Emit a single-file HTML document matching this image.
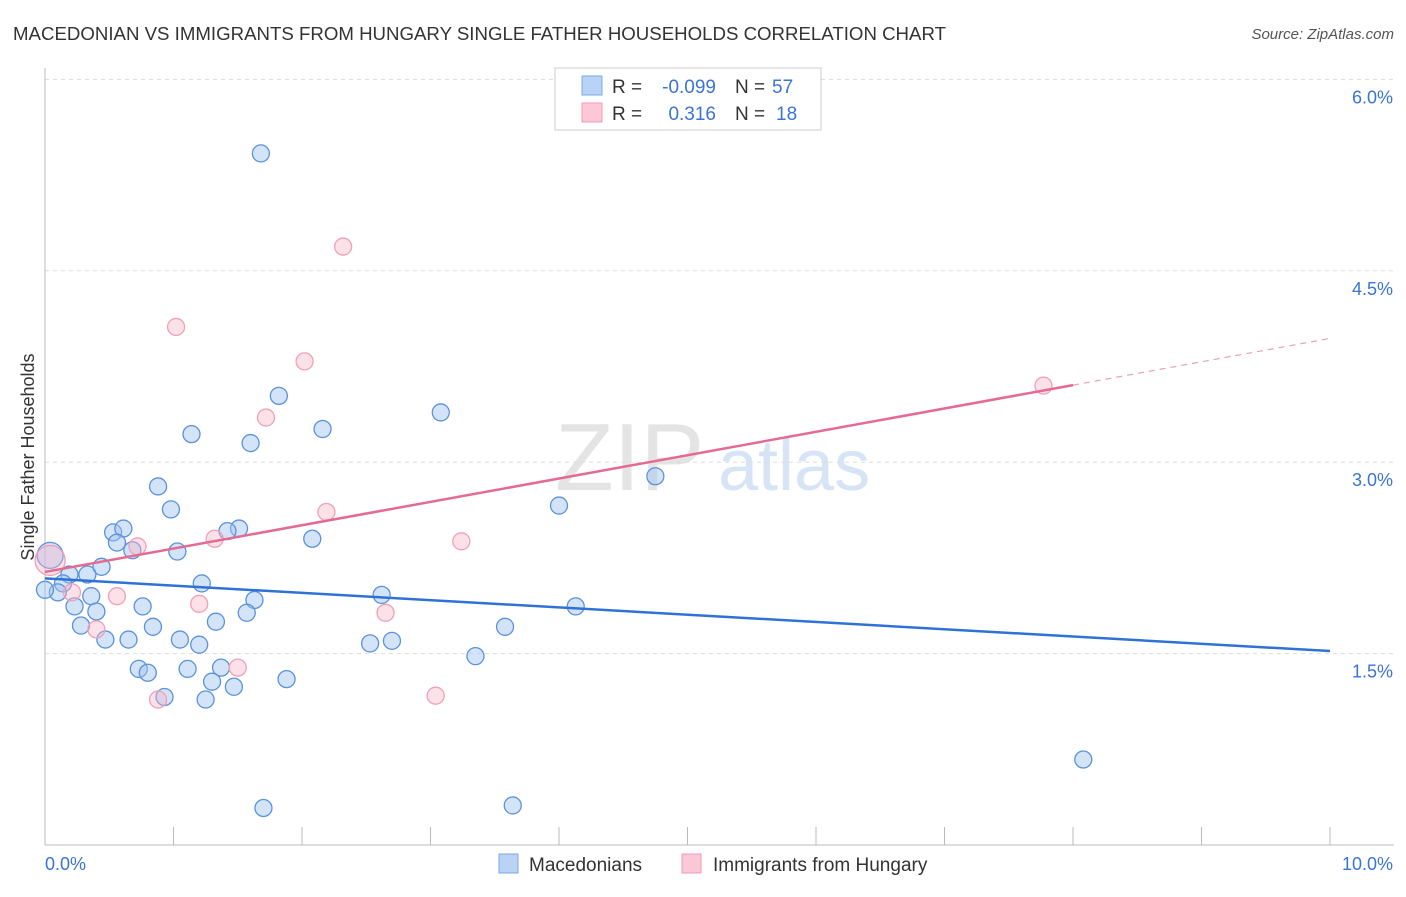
<!DOCTYPE html>
<html><head><meta charset="utf-8"><style>
body{margin:0;background:#fff;font-family:"Liberation Sans",sans-serif;}
svg text{font-family:"Liberation Sans",sans-serif;}
</style></head><body>
<svg id="chart" width="1406" height="892" xmlns="http://www.w3.org/2000/svg">
<text x="13" y="40" font-size="18" fill="#333" textLength="933" lengthAdjust="spacingAndGlyphs">MACEDONIAN VS IMMIGRANTS FROM HUNGARY SINGLE FATHER HOUSEHOLDS CORRELATION CHART</text>
<text x="1394" y="39" font-size="15" fill="#555" text-anchor="end" font-style="italic">Source: ZipAtlas.com</text>
<text x="555" y="490" font-size="96" fill="#e4e4e4" font-family="Liberation Serif">ZIP</text>
<text x="718" y="490" font-size="72" fill="#d6e4f5">atlas</text>
<text transform="translate(34,457) rotate(-90)" font-size="18" fill="#333" text-anchor="middle">Single Father Households</text>
<g id="grid"></g><g id="axes"></g><g id="marks"></g>
<g>
<rect x="555" y="68" width="266" height="62" fill="#fff" stroke="#ccc"/>
<rect x="582" y="76" width="20" height="19" fill="#b8d3f5" stroke="#7aa8e6"/>
<rect x="582" y="103" width="20" height="19" fill="#fcc7d6" stroke="#f09ab5"/>
<text x="612" y="93" font-size="19" fill="#333">R =</text>
<text x="716" y="93" font-size="19" fill="#3a74d6" text-anchor="end">-0.099</text>
<text x="735" y="93" font-size="19" fill="#333">N =</text>
<text x="772" y="93" font-size="19" fill="#3a74d6">57</text>
<text x="612" y="120" font-size="19" fill="#333">R =</text>
<text x="716" y="120" font-size="19" fill="#3a74d6" text-anchor="end">0.316</text>
<text x="735" y="120" font-size="19" fill="#333">N =</text>
<text x="776" y="120" font-size="19" fill="#3a74d6">18</text>
</g>
<g>
<rect x="499" y="854" width="19" height="19" fill="#b8d3f5" stroke="#7aa8e6"/>
<text x="529" y="871" font-size="19" fill="#333">Macedonians</text>
<rect x="682" y="854" width="19" height="19" fill="#fcc7d6" stroke="#f09ab5"/>
<text x="713" y="871" font-size="19" fill="#333">Immigrants from Hungary</text>
</g>
</svg>
<script>
const blueX=[1.68,1.82,1.14,1.60,2.16,3.08,4.75,4.00,0.88,0.98,0.53,0.61,0.56,1.51,1.42,2.08,0.68,1.03,0.44,0.19,0.33,0.14,0.10,1.22,0.36,0.23,0.40,0.76,1.63,2.62,4.13,1.57,1.33,0.28,0.84,3.58,0.47,0.65,1.05,1.20,2.53,2.70,3.35,0.73,0.80,1.11,1.37,1.30,1.88,1.47,0.93,1.25,1.70,3.64,8.08,0.00];
const blueY=[5.42,3.52,3.22,3.15,3.26,3.39,2.89,2.66,2.81,2.63,2.45,2.48,2.37,2.48,2.46,2.40,2.31,2.30,2.18,2.12,2.12,2.05,1.98,2.05,1.95,1.87,1.83,1.87,1.92,1.96,1.87,1.82,1.75,1.72,1.71,1.71,1.61,1.61,1.61,1.57,1.58,1.60,1.48,1.38,1.35,1.38,1.39,1.28,1.30,1.24,1.16,1.14,0.29,0.31,0.67,2.00];
const pinkX=[2.32,1.02,2.02,1.72,2.19,3.24,1.32,0.72,0.56,0.21,0.40,1.20,2.65,1.50,0.88,3.04,7.77];
const pinkY=[4.69,4.06,3.79,3.35,2.61,2.38,2.40,2.34,1.95,1.98,1.69,1.89,1.82,1.39,1.14,1.17,3.60];
const bigPoints=[{x:0.04,y:2.27,s:'blue'},{x:0.04,y:2.23,s:'pink'}];
const blueLine=[2.09,1.52];
const pinkLine=[2.14,3.97];
const pinkSolidEnd=8.0;
const yTicks=[1.5,3.0,4.5,6.0];
const yTickLabels=["1.5%","3.0%","4.5%","6.0%"];
const xTicks=[0,1,2,3,4,5,6,7,8,9,10];
const NS="http://www.w3.org/2000/svg";
const X=v=>45+v*128.5, Y=v=>845-v*127.6;
function mk(t,a,p){const e=document.createElementNS(NS,t);for(const k in a)e.setAttribute(k,a[k]);p.appendChild(e);return e;}
const grid=document.getElementById('grid'),axes=document.getElementById('axes'),marks=document.getElementById('marks');
yTicks.forEach((t,i)=>{
 const l=mk('line',{x1:45,x2:1394,y1:Y(t),y2:Y(t),stroke:'#ddd','stroke-dasharray':'4,4'},grid);
 
 
 const tx=mk('text',{x:1393,y:Y(t)+24,'font-size':18,fill:'#3a74d6','text-anchor':'end'},axes);
 tx.textContent=yTickLabels[i];
 
 
});
const ax=mk('line',{x1:45,x2:45,y1:68,y2:845,stroke:'#bbb'},axes);


const bx=mk('line',{x1:45,x2:1394,y1:845,y2:845,stroke:'#bbb'},axes);


xTicks.forEach(t=>{
 const l=mk('line',{x1:X(t),x2:X(t),y1:827,y2:845,stroke:'#bbb'},axes);
 
 
});
const x0=mk('text',{x:45,y:870,'font-size':18,fill:'#3a74d6'},axes);x0.textContent='0.0%';


const x1=mk('text',{x:1393,y:870,'font-size':18,fill:'#3a74d6','text-anchor':'end'},axes);x1.textContent='10.0%';


function pt(x,y,r,s){
 const c=mk('circle',{cx:X(x),cy:Y(y),r:r,fill:s=='blue'?'rgba(160,195,240,0.45)':'rgba(248,180,200,0.4)',stroke:s=='blue'?'#5b92dc':'#f0a0b8','stroke-width':1.3},marks);
 
 
}
bigPoints.forEach(p=>pt(p.x,p.y,p.s=='blue'?13:15,p.s));
blueX.forEach((x,i)=>pt(x,blueY[i],8.5,'blue'));
pinkX.forEach((x,i)=>pt(x,pinkY[i],8.5,'pink'));
const bl=mk('line',{x1:X(0),y1:Y(blueLine[0]),x2:X(10),y2:Y(blueLine[1]),stroke:'#2f72d6','stroke-width':2.5},marks);


const pv=x=>pinkLine[0]+(pinkLine[1]-pinkLine[0])*x/10;
const pl=mk('line',{x1:X(0),y1:Y(pv(0)),x2:X(pinkSolidEnd),y2:Y(pv(pinkSolidEnd)),stroke:'#e56a92','stroke-width':2.5},marks);


const pd=mk('line',{x1:X(pinkSolidEnd),y1:Y(pv(pinkSolidEnd)),x2:X(10),y2:Y(pv(10)),stroke:'#eaa0b8','stroke-width':1.2,'stroke-dasharray':'6,5'},marks);


</script>
</body></html>
